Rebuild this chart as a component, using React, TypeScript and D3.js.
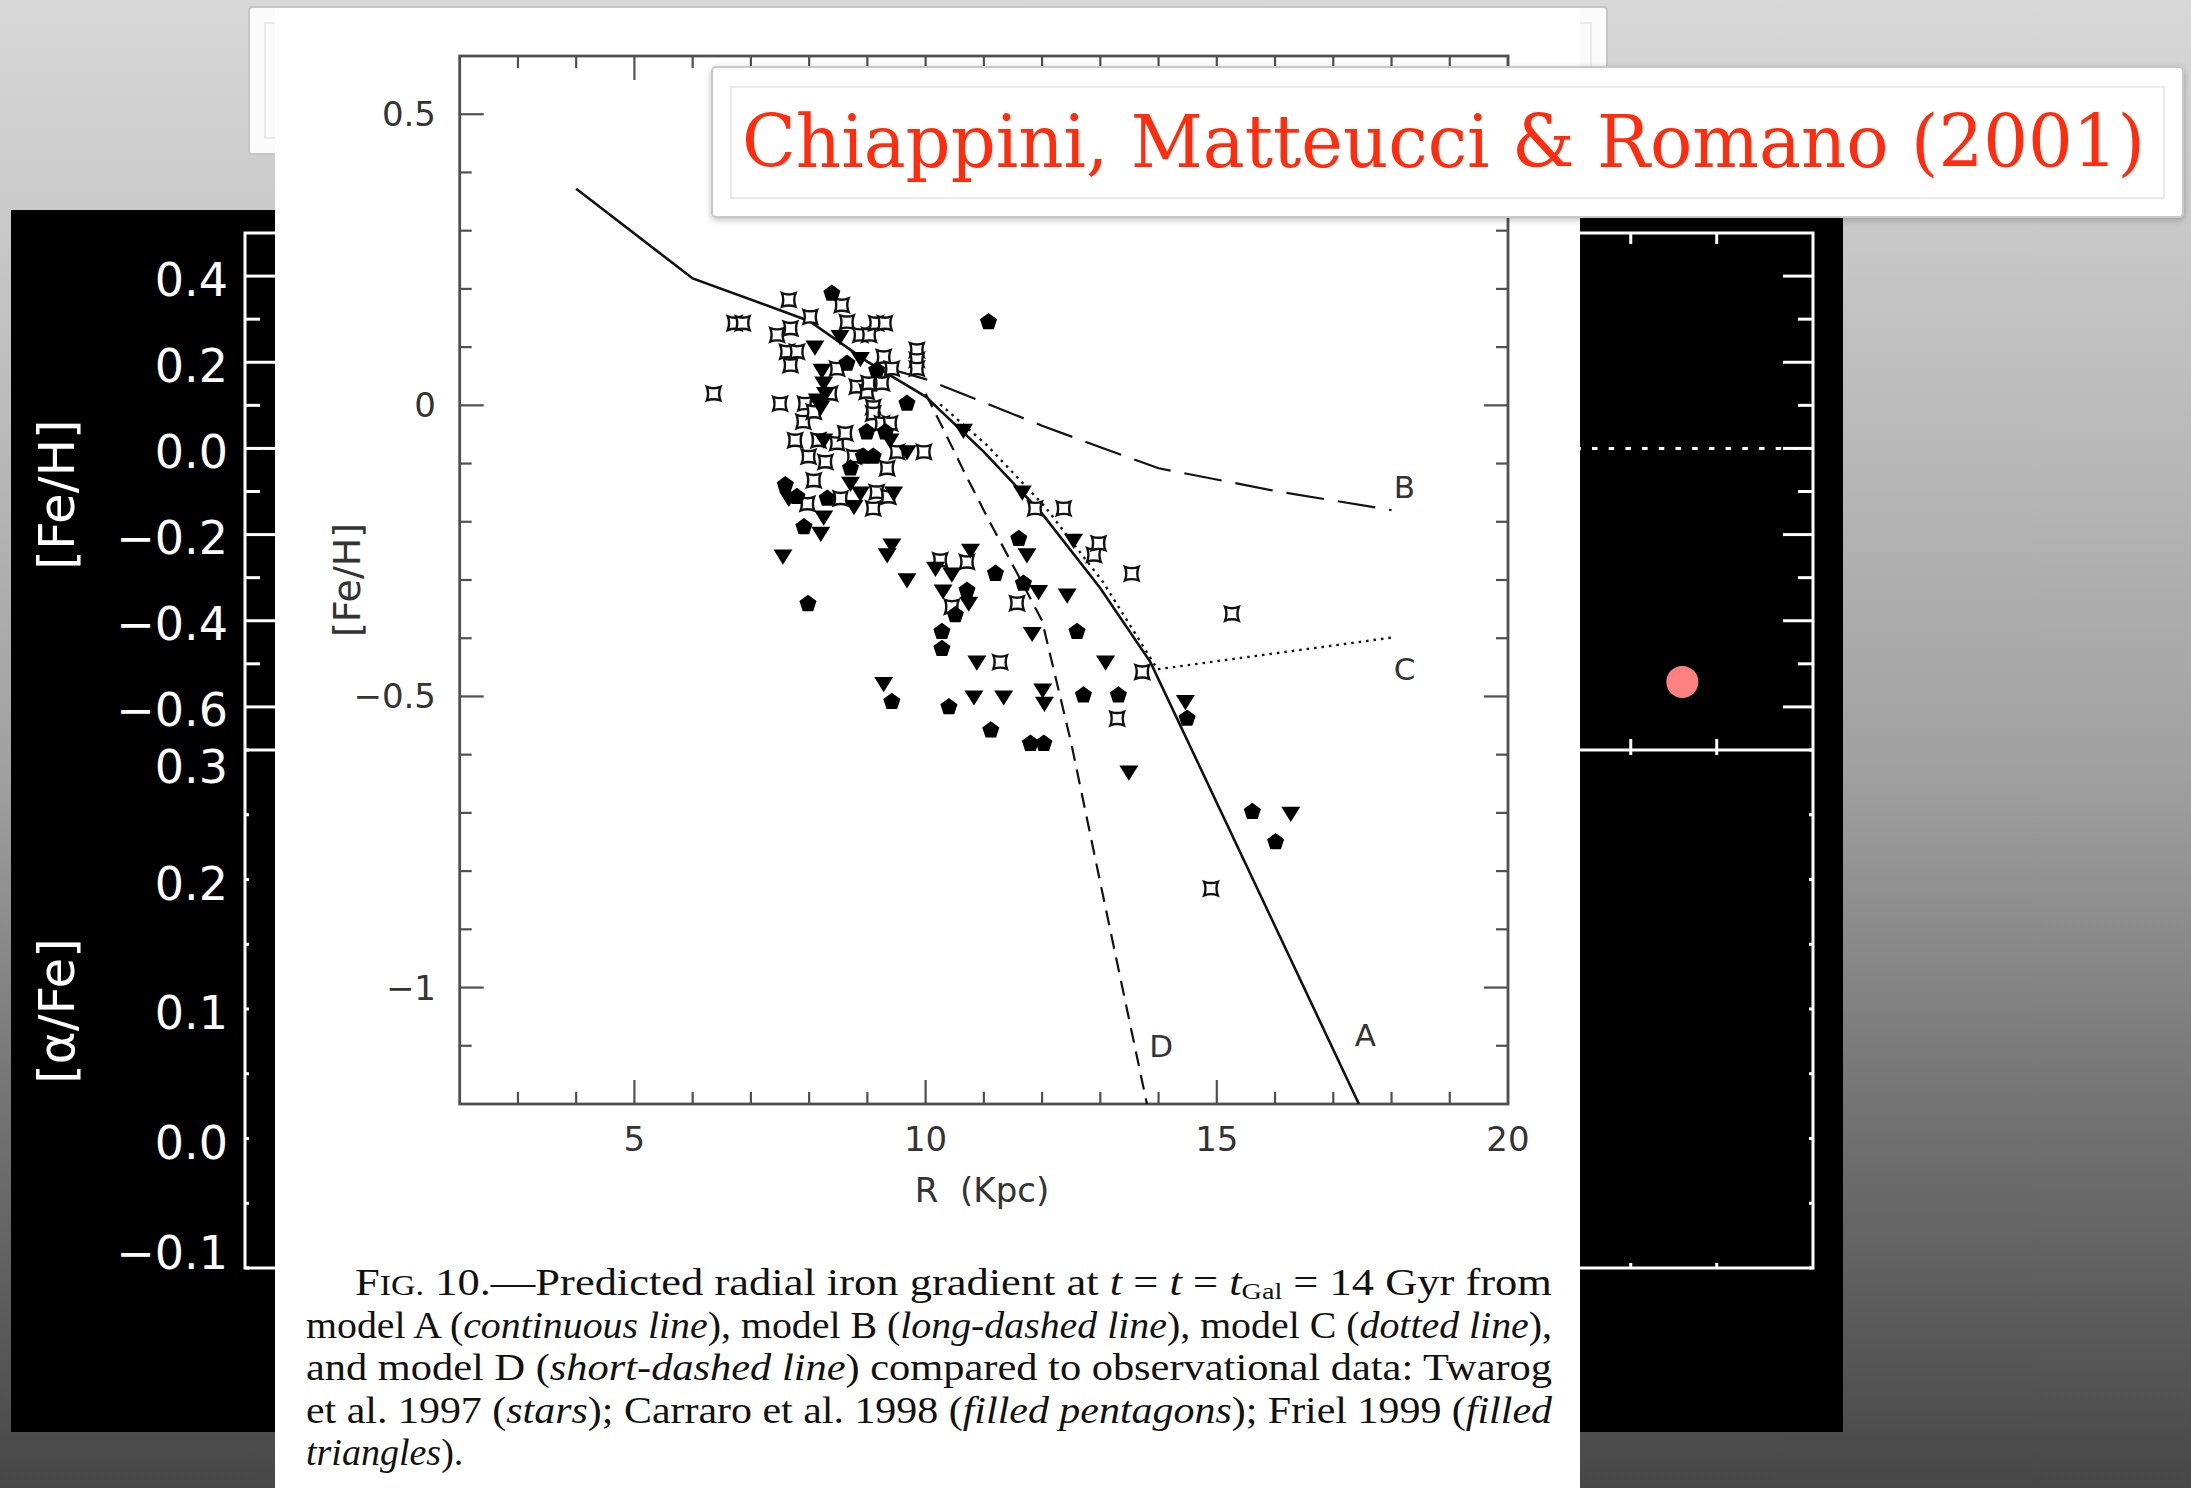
import React from 'react';
import * as d3 from 'd3';

const W = 2191;
const H = 1488;

// ---- Model gradients: [R (kpc), [Fe/H]] ----
const modelA: [number, number][] = [[4, 0.372], [6, 0.218], [8, 0.145], [9, 0.075], [10, 0.015], [11, -0.08], [12, -0.186], [13, -0.314], [13.86, -0.441], [17.44, -1.2]];
const modelB: [number, number][] = [[9.4, 0.062], [10, 0.045], [11, 0.005], [12, -0.035], [13, -0.072], [14, -0.108], [16, -0.147], [18, -0.18]];
const modelC: [number, number][] = [[10.2, 0.0], [11, -0.07], [12, -0.176], [13, -0.306], [13.93, -0.455], [18, -0.4]];
const modelD: [number, number][] = [[10, 0.02], [10.3, -0.04], [10.7, -0.122], [11.1, -0.2], [11.5, -0.275], [12, -0.37], [12.5, -0.58], [13, -0.82], [13.8, -1.2]];

// Curve tags placed at [R, [Fe/H]] (text baseline start)
const curveTags: [string, number, number][] = [['B', 18.04, -0.16], ['C', 18.04, -0.472], ['D', 13.84, -1.12], ['A', 17.37, -1.1]];

// ---- Observations ----
// Twarog et al. 1997 (stars)
const twarog: [number, number][] = [
  [6.36, 0.02], [6.72, 0.141], [6.86, 0.141], [7.45, 0.121], [7.5, 0.003], [7.62, 0.092], [7.65, 0.181], [7.68, 0.132],
  [7.68, 0.069], [7.76, -0.06], [7.79, 0.092], [7.9, -0.028], [7.93, 0.003], [7.97, -0.169], [7.99, -0.088], [8.02, 0.152],
  [8.08, -0.011], [8.08, -0.129], [8.16, -0.06], [8.28, -0.097], [8.36, 0.02], [8.48, 0.063], [8.48, -0.065], [8.54, -0.16],
  [8.56, 0.172], [8.62, -0.048], [8.65, 0.143], [8.77, -0.088], [8.82, 0.032], [8.88, 0.121], [8.99, 0.023], [9.02, 0.038],
  [9.03, 0.121], [9.1, -0.003], [9.1, -0.014], [9.1, -0.177], [9.15, 0.141], [9.16, -0.149], [9.25, 0.038], [9.25, -0.031],
  [9.28, 0.083], [9.3, 0.141], [9.34, -0.108], [9.36, -0.157], [9.39, -0.031], [9.42, 0.063], [9.51, -0.08], [9.85, 0.095],
  [9.85, 0.078], [9.85, 0.063], [9.97, -0.08], [10.25, -0.266], [10.45, -0.346], [10.71, -0.269], [11.28, -0.441], [11.57, -0.34],
  [11.88, -0.177], [12.37, -0.177], [12.89, -0.257], [12.97, -0.237], [13.29, -0.538], [13.54, -0.289], [13.72, -0.458],
  [14.9, -0.83], [15.26, -0.358],
];
// Carraro et al. 1998 (filled pentagons)
const carraro: [number, number][] = [
  [7.59, -0.137], [7.79, -0.157], [7.91, -0.209], [7.98, -0.341], [8.31, -0.16], [8.39, 0.192], [8.65, 0.072], [8.71, -0.108],
  [8.93, -0.088], [8.99, -0.046], [9.1, -0.088], [9.16, 0.06], [9.31, -0.046], [9.42, -0.509], [9.68, 0.003], [10.28, -0.389],
  [10.28, -0.418], [10.4, -0.518], [10.51, -0.36], [10.71, -0.318], [11.08, 0.143], [11.12, -0.558], [11.2, -0.289], [11.6, -0.229],
  [11.68, -0.306], [11.8, -0.581], [12.03, -0.581], [12.6, -0.389], [12.71, -0.498], [13.31, -0.498], [14.49, -0.538],
  [15.61, -0.698], [16.01, -0.75],
];
// Friel 1999 (filled triangles)
const friel: [number, number][] = [
  [7.55, -0.259], [7.65, -0.16], [8.1, 0.1], [8.14, 0.009], [8.2, -0.003], [8.2, -0.22], [8.22, 0.06], [8.25, 0.038],
  [8.25, -0.06], [8.25, -0.192], [8.28, 0.02], [8.53, 0.118], [8.71, -0.134], [8.77, -0.174], [8.88, 0.08], [8.88, -0.151],
  [9.28, -0.478], [9.34, -0.257], [9.39, -0.06], [9.42, -0.24], [9.45, -0.151], [9.68, -0.08], [9.68, -0.3], [10.17, -0.28],
  [10.3, -0.319], [10.45, -0.29], [10.65, -0.043], [10.74, -0.34], [10.77, -0.249], [10.83, -0.501], [10.88, -0.441],
  [11.34, -0.501], [11.66, -0.149], [11.74, -0.257], [11.83, -0.392], [11.94, -0.32], [12.01, -0.489], [12.04, -0.512],
  [12.43, -0.326], [12.54, -0.232], [13.09, -0.441], [13.49, -0.63], [14.46, -0.509], [16.27, -0.701],
];

// ---- Axis ticks ----
const figXMajor = [5, 10, 15, 20];
const figYMajor = [0.5, 0, -0.5, -1];
const figYLabels = ['0.5', '0', '\u22120.5', '\u22121'];

const feTicks = [0.4, 0.2, 0.0, -0.2, -0.4, -0.6];
const feLabels = ['0.4', '0.2', '0.0', '\u22120.2', '\u22120.4', '\u22120.6'];
const alphaTicks = [0.3, 0.2, 0.1, 0.0, -0.1];
const alphaLabels = ['0.3', '0.2', '0.1', '0.0', '\u22120.1'];

// cluster shown in the slide's own [Fe/H] panel
const slidePoint: [number, number][] = [[19.6, -0.542]];

// caption, one array of [text, style] per printed line
type Part = [string, string?];
const captionLines: Part[][] = [
  [['F'], ['IG.', 'sc'], [' 10.\u2014Predicted radial iron gradient at '], ['t', 'i'], [' = '], ['t', 'i'], [' = '], ['t', 'i'], ['Gal', 'sub'], [' = 14 Gyr from']],
  [['model A ('], ['continuous line', 'i'], ['), model B ('], ['long-dashed line', 'i'], ['), model C ('], ['dotted line', 'i'], ['),']],
  [['and model D ('], ['short-dashed line', 'i'], [') compared to observational data: Twarog']],
  [['et al. 1997 ('], ['stars', 'i'], ['); Carraro et al. 1998 ('], ['filled pentagons', 'i'], ['); Friel 1999 ('], ['filled', 'i']],
  [['triangles', 'i'], [').']],
];

const titleText = 'Chiappini, Matteucci & Romano (2001)';

// ---- marker shapes ----
const pentagon = (r: number) => {
  const pts = d3.range(5).map((k) => {
    const a = -Math.PI / 2 + (k * 2 * Math.PI) / 5;
    return [r * Math.cos(a), r * Math.sin(a)];
  });
  return 'M' + pts.map((p) => p.join(',')).join('L') + 'Z';
};
const triDown = (s: number) => `M${-s},${-s * 0.7}L${s},${-s * 0.7}L0,${s * 0.9}Z`;
const starShape = (s: number) => {
  const k = s * 0.62;
  return `M${-s},${-s}Q0,${-k} ${s},${-s}Q${k},0 ${s},${s}Q0,${k} ${-s},${s}Q${-k},0 ${-s},${-s}Z`;
};

export default function App() {
  // printed figure
  const fig = { left: 459.7, right: 1508, top: 56, bottom: 1104 };
  const x = d3.scaleLinear().domain([2, 20]).range([fig.left, fig.right]);
  const y = d3.scaleLinear().domain([-1.2, 0.6]).range([fig.bottom, fig.top]);
  const line = d3.line<[number, number]>().x((d) => x(d[0])).y((d) => y(d[1]));

  const xMinor = d3.range(3, 20).filter((v) => v % 5 !== 0);
  const yMinor = d3.range(-11, 6).map((v) => v / 10).filter((v) => Math.abs((v * 2) - Math.round(v * 2)) > 1e-6);

  // slide panels behind the figure
  const pan = { left: 245, right: 1813, top: 233, mid: 750, bottom: 1268 };
  const px = d3.scaleLinear().domain([2.88, 21.12]).range([pan.left, pan.right]);
  const yFe = d3.scaleLinear().domain([-0.7, 0.5]).range([pan.mid, pan.top]);
  const yAl = d3.scaleLinear().domain([-0.1, 0.3]).range([pan.bottom, pan.mid]);
  const pxTicks = d3.range(4, 21);
  const feMinor = d3.range(-6, 5).map((v) => v / 10).filter((v) => Math.round(v * 10) % 2 !== 0);
  const alMinor = d3.range(-2, 7).map((v) => v / 20);

  const figText = '#333';
  const frameCol = '#505050';
  const sans = "'DejaVu Sans', sans-serif";

  const capY0 = 1295;
  const capDY = 42.5;

  return (
    <svg width={W} height={H} viewBox={`0 0 ${W} ${H}`} style={{ position: 'absolute', left: 0, top: 0, display: 'block' }}>
      <defs>
        <linearGradient id="bg" x1="0" y1="0" x2="0" y2="1">
          <stop offset="0" stopColor="#d8d8d8" />
          <stop offset="0.14" stopColor="#cacaca" />
          <stop offset="0.52" stopColor="#a0a0a0" />
          <stop offset="0.74" stopColor="#747474" />
          <stop offset="1" stopColor="#474747" />
        </linearGradient>
        <clipPath id="plotClip">
          <rect x={fig.left} y={fig.top} width={fig.right - fig.left} height={fig.bottom - fig.top} />
        </clipPath>
        <filter id="shadow" x="-5%" y="-20%" width="110%" height="140%">
          <feDropShadow dx="0" dy="2" stdDeviation="3" floodColor="#000" floodOpacity="0.25" />
        </filter>
      </defs>

      <rect x={0} y={0} width={W} height={H} fill="url(#bg)" />

      {/* empty placeholder box of the slide */}
      <rect x={249} y={7} width={1358} height={147} fill="#fbfbfb" stroke="#c6c6c6" strokeWidth={2} rx={3} />
      <rect x={265} y={23} width={1326} height={115} fill="none" stroke="#e4e4e4" strokeWidth={1.5} />

      {/* black slide plot */}
      <rect x={11} y={210} width={1832} height={1222} fill="#000" />
      <g stroke="#fff" fill="none">
        <line x1={pan.left} x2={pan.right} y1={yFe(0)} y2={yFe(0)} strokeWidth={3} strokeDasharray="5.5,11.2" strokeDashoffset={5.7} />
        <rect x={pan.left} y={pan.top} width={pan.right - pan.left} height={pan.bottom - pan.top} strokeWidth={3} />
        <line x1={pan.left} x2={pan.right} y1={pan.mid} y2={pan.mid} strokeWidth={3} />
        {feTicks.map((v) => (
          <g key={'fe' + v}>
            <line x1={pan.left} x2={pan.left + 30} y1={yFe(v)} y2={yFe(v)} strokeWidth={3} />
            <line x1={pan.right} x2={pan.right - 30} y1={yFe(v)} y2={yFe(v)} strokeWidth={3} />
          </g>
        ))}
        {feMinor.map((v) => (
          <g key={'fem' + v}>
            <line x1={pan.left} x2={pan.left + 15} y1={yFe(v)} y2={yFe(v)} strokeWidth={3} />
            <line x1={pan.right} x2={pan.right - 15} y1={yFe(v)} y2={yFe(v)} strokeWidth={3} />
          </g>
        ))}
        {alMinor.map((v) => (
          <g key={'al' + v}>
            <line x1={pan.left} x2={pan.left + 4} y1={yAl(v)} y2={yAl(v)} strokeWidth={3} />
            <line x1={pan.right} x2={pan.right - 4} y1={yAl(v)} y2={yAl(v)} strokeWidth={3} />
          </g>
        ))}
        {pxTicks.map((v) => (
          <g key={'px' + v}>
            <line x1={px(v)} x2={px(v)} y1={pan.top} y2={pan.top + 11} strokeWidth={3} />
            <line x1={px(v)} x2={px(v)} y1={pan.mid} y2={pan.mid - 11} strokeWidth={3} />
            <line x1={px(v)} x2={px(v)} y1={pan.mid} y2={pan.mid + 5} strokeWidth={3} />
            <line x1={px(v)} x2={px(v)} y1={pan.bottom} y2={pan.bottom - 5} strokeWidth={3} />
          </g>
        ))}
      </g>
      {slidePoint.map((d, i) => (
        <circle key={'sp' + i} cx={px(d[0])} cy={yFe(d[1])} r={16} fill="#ff8080" />
      ))}
      <g fill="#fff" fontFamily={sans} fontSize={46} textAnchor="end">
        {feTicks.map((v, i) => (
          <text key={'fel' + v} x={228} y={yFe(v) + 2.5 + 17}>{feLabels[i]}</text>
        ))}
        {alphaTicks.map((v, i) => {
          const c = Math.min(Math.max(yAl(v) + 3, pan.mid + 16), pan.bottom - 16);
          return <text key={'all' + v} x={228} y={c + 17}>{alphaLabels[i]}</text>;
        })}
      </g>
      <g fill="#fff" fontFamily={sans} fontSize={50} textAnchor="middle">
        <text transform={`translate(74,${(pan.top + pan.mid) / 2 + 3}) rotate(-90)`}>[Fe/H]</text>
        <text transform={`translate(74,${(pan.mid + pan.bottom) / 2 + 2}) rotate(-90)`}>[α/Fe]</text>
      </g>

      {/* the printed page */}
      <rect x={275} y={8} width={1305} height={1480} fill="#fff" />

      {/* figure frame and ticks */}
      <g stroke={frameCol} fill="none">
        <rect x={fig.left} y={fig.top} width={fig.right - fig.left} height={fig.bottom - fig.top} strokeWidth={2.8} />
        {figXMajor.concat(xMinor).map((v) => {
          const len = figXMajor.includes(v) ? 24 : 12;
          return (
            <g key={'xt' + v} strokeWidth={2.2}>
              <line x1={x(v)} x2={x(v)} y1={fig.bottom} y2={fig.bottom - len} />
              <line x1={x(v)} x2={x(v)} y1={fig.top} y2={fig.top + len} />
            </g>
          );
        })}
        {figYMajor.concat(yMinor).map((v) => {
          const len = figYMajor.includes(v) ? 24 : 12;
          return (
            <g key={'yt' + v} strokeWidth={2.2}>
              <line x1={fig.left} x2={fig.left + len} y1={y(v)} y2={y(v)} />
              <line x1={fig.right} x2={fig.right - len} y1={y(v)} y2={y(v)} />
            </g>
          );
        })}
      </g>
      <g fill={figText} fontFamily={sans} fontSize={34}>
        {figXMajor.map((v) => (
          <text key={'xl' + v} x={x(v)} y={1151} textAnchor="middle">{String(v)}</text>
        ))}
        {figYMajor.map((v, i) => (
          <text key={'yl' + v} x={436} y={y(v) + 12} textAnchor="end">{figYLabels[i]}</text>
        ))}
        <text x={982} y={1202} textAnchor="middle" style={{ whiteSpace: 'pre' }}>{'R  (Kpc)'}</text>
        <text transform="translate(360,580) rotate(-90)" textAnchor="middle" fontSize={38}>[Fe/H]</text>
      </g>

      {/* model curves */}
      <g clipPath="url(#plotClip)" fill="none" stroke="#111">
        <path d={line(modelA) || ''} strokeWidth={2.6} />
        <path d={line(modelB) || ''} strokeWidth={2.2} strokeDasharray="38,14" />
        <path d={line(modelC) || ''} strokeWidth={2.4} strokeDasharray="2.5,5" transform="translate(3,-1)" />
        <path d={line(modelD) || ''} strokeWidth={2.2} strokeDasharray="15,9" />
      </g>
      <g fill={figText} fontFamily={sans} fontSize={31}>
        {curveTags.map(([t, r, fe]) => (
          <text key={'tag' + t} x={x(r)} y={y(fe)}>{t}</text>
        ))}
      </g>

      {/* observations */}
      <g>
        {twarog.map((d, i) => (
          <path key={'tw' + i} d={starShape(6.8)} transform={`translate(${x(d[0])},${y(d[1])})`} fill="#fff" stroke="#111" strokeWidth={2.4} />
        ))}
        {carraro.map((d, i) => (
          <path key={'ca' + i} d={pentagon(9)} transform={`translate(${x(d[0])},${y(d[1])})`} fill="#000" />
        ))}
        {friel.map((d, i) => (
          <path key={'fr' + i} d={triDown(9.5)} transform={`translate(${x(d[0])},${y(d[1])})`} fill="#000" />
        ))}
      </g>

      {/* caption */}
      <g fontFamily="'Liberation Serif', 'Times New Roman', serif" fontSize={38} fill="#111">
        {captionLines.map((parts, li) => {
          const last = li === captionLines.length - 1;
          const x0 = li === 0 ? 355 : 306;
          const extra: any = last ? {} : { textLength: 1552 - x0, lengthAdjust: 'spacingAndGlyphs' };
          return (
            <text key={'cap' + li} x={x0} y={capY0 + li * capDY} style={{ whiteSpace: 'pre' }} {...extra}>
              {parts.map(([t, s], k) => {
                if (s === 'i') return <tspan key={k} fontStyle="italic">{t}</tspan>;
                if (s === 'sc') return <tspan key={k} fontSize={29}>{t}</tspan>;
                if (s === 'sub') return <tspan key={k} fontSize={24} baselineShift="-18%">{t}</tspan>;
                return <tspan key={k}>{t}</tspan>;
              })}
            </text>
          );
        })}
      </g>

      {/* title box */}
      <g filter="url(#shadow)">
        <rect x={712} y={67} width={1471} height={150} fill="#fff" stroke="#c8c8c8" strokeWidth={2} rx={4} />
      </g>
      <rect x={731} y={87} width={1433} height={111} fill="none" stroke="#e3e3e3" strokeWidth={1.5} />
      <text x={742} y={167} fontFamily="'DejaVu Serif', serif" fontSize={72} fill="#ff2d0d" textLength={1403} lengthAdjust="spacingAndGlyphs">
        {titleText}
      </text>
    </svg>
  );
}
